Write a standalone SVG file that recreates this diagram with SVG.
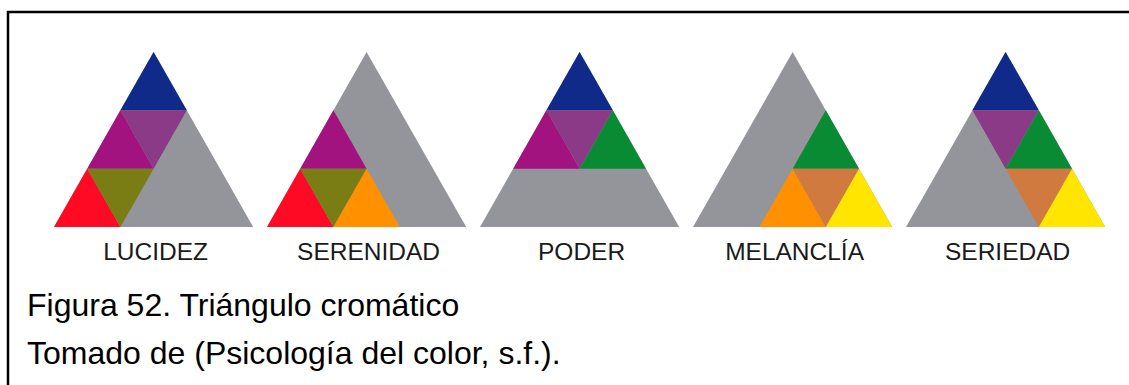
<svg xmlns="http://www.w3.org/2000/svg" width="1129" height="385" viewBox="0 0 1129 385">
  <style>
    .bl{fill:#0f2a88}
    .mg{fill:#a2137f}
    .pu{fill:#8a3a86}
    .gr{fill:#94959a}
    .rd{fill:#ff0a24}
    .ol{fill:#7a7d14}
    .or{fill:#ff9000}
    .gn{fill:#098b34}
    .tc{fill:#d07a3f}
    .ye{fill:#ffe500}
    .lbl{font-family:"Liberation Sans",Arial,sans-serif;font-size:24.5px;fill:#1a1a1a;text-anchor:middle}
    .cap{font-family:"Liberation Sans",Arial,sans-serif;font-size:32px;fill:#000}
  </style>
  <defs>
    <polygon id="full" points="99.6,52 0,227 199.2,227"/>
    <polygon id="U00" points="99.6,52 66.4,110.3 132.8,110.3"/>
    <polygon id="U10" points="66.4,110.3 33.2,168.7 99.6,168.7"/>
    <polygon id="D10" points="66.4,110.3 132.8,110.3 99.6,168.7"/>
    <polygon id="U11" points="132.8,110.3 99.6,168.7 166,168.7"/>
    <polygon id="U20" points="33.2,168.7 0,227 66.4,227"/>
    <polygon id="D20" points="33.2,168.7 99.6,168.7 66.4,227"/>
    <polygon id="U21" points="99.6,168.7 66.4,227 132.8,227"/>
    <polygon id="D21" points="99.6,168.7 166,168.7 132.8,227"/>
    <polygon id="U22" points="166,168.7 132.8,227 199.2,227"/>
  </defs>
  <rect width="1129" height="385" fill="#fff"/>
  <path d="M8,385 V12 H1129" fill="none" stroke="#000" stroke-width="2.5"/>

  <g id="lucidez">
    <g transform="translate(54,0)">
      <use href="#full" class="gr"/>
      <use href="#U00" class="bl"/>
      <use href="#U10" class="mg"/>
      <use href="#D10" class="pu"/>
      <use href="#U20" class="rd"/>
      <use href="#D20" class="ol"/>
    </g>
    <text class="lbl" x="155.6" y="260">LUCIDEZ</text>
  </g>

  <g id="serenidad">
    <g transform="translate(267,0)">
      <use href="#full" class="gr"/>
      <use href="#U10" class="mg"/>
      <use href="#U20" class="rd"/>
      <use href="#D20" class="ol"/>
      <use href="#U21" class="or"/>
    </g>
    <text class="lbl" x="368.6" y="260">SERENIDAD</text>
  </g>

  <g id="poder">
    <g transform="translate(480,0)">
      <use href="#full" class="gr"/>
      <use href="#U00" class="bl"/>
      <use href="#U10" class="mg"/>
      <use href="#D10" class="pu"/>
      <use href="#U11" class="gn"/>
    </g>
    <text class="lbl" x="581.6" y="260">PODER</text>
  </g>

  <g id="melanclia">
    <g transform="translate(693,0)">
      <use href="#full" class="gr"/>
      <use href="#U11" class="gn"/>
      <use href="#U21" class="or"/>
      <use href="#D21" class="tc"/>
      <use href="#U22" class="ye"/>
    </g>
    <text class="lbl" x="794.6" y="260">MELANCLÍA</text>
  </g>

  <g id="seriedad">
    <g transform="translate(906,0)">
      <use href="#full" class="gr"/>
      <use href="#U00" class="bl"/>
      <use href="#D10" class="pu"/>
      <use href="#U11" class="gn"/>
      <use href="#D21" class="tc"/>
      <use href="#U22" class="ye"/>
    </g>
    <text class="lbl" x="1007.6" y="260">SERIEDAD</text>
  </g>

  <g id="connectors"/>

  <g id="caption">
    <text class="cap" x="27" y="316">Figura 52. Triángulo cromático</text>
    <text class="cap" x="27" y="364">Tomado de (Psicología del color, s.f.).</text>
  </g>
</svg>
